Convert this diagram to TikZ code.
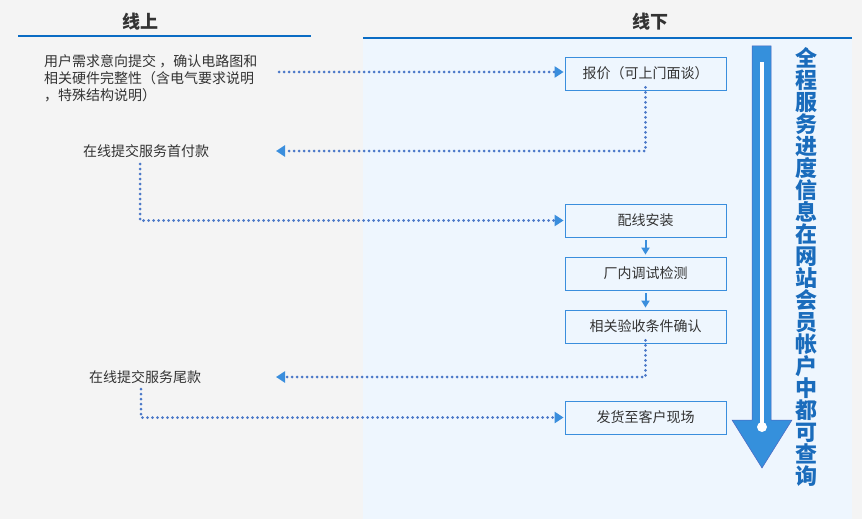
\documentclass[tikz,border=0pt]{standalone}
\usepackage{fontspec}
\setmainfont{Noto Sans CJK SC}
\usetikzlibrary{arrows.meta}
\definecolor{bggrey}{HTML}{F4F4F4}
\definecolor{panelblue}{HTML}{EEF6FE}
\definecolor{rulecol}{HTML}{0A6CC4}
\definecolor{boxcol}{HTML}{3A8EDD}
\definecolor{dotcol}{HTML}{4A78C8}
\definecolor{headcol}{HTML}{3A8EDD}
\definecolor{bigarrow}{HTML}{3590DC}
\definecolor{vtcol}{HTML}{1A6CBC}
\definecolor{txt}{HTML}{333333}
\tikzset{
  stepbox/.style={draw=boxcol, line width=0.8pt, fill=panelblue, minimum width=161pt, minimum height=33pt, inner sep=0pt, text=txt, font=\fontsize{14}{16}\selectfont},
  lefttext/.style={text=txt, font=\fontsize{14}{17}\selectfont, inner sep=0pt},
  dotline/.style={draw=dotcol, line width=3pt, line cap=round, dash pattern=on 0pt off 5pt,
     -{Triangle[length=9pt,width=11pt,color=headcol,fill=headcol]}},
  smallarrow/.style={draw=headcol, line width=2pt, -{Triangle[length=7pt,width=8pt,color=headcol,fill=headcol]}},
  header/.style={text=txt, font=\fontsize{18}{20}\selectfont\bfseries}
}
\begin{document}
\begin{tikzpicture}[x=1pt,y=-1pt]
\useasboundingbox (0,0) rectangle (862,519);
\fill[bggrey] (0,0) rectangle (862,519);
\fill[panelblue] (363,38) rectangle (852,519);
% headers
\node[header] (hon) at (140,22) {线上};
\node[header] (hoff) at (650,22) {线下};
\draw[rulecol, line width=1.2pt] (18,36) -- (311,36);
\draw[rulecol, line width=1.2pt] (363,38) -- (852,38);
% boxes
\node[stepbox] (b1) at (645.5,73.5) {报价（可上门面谈）};
\node[stepbox] (b2) at (645.5,220.5) {配线安装};
\node[stepbox] (b3) at (645.5,273.5) {厂内调试检测};
\node[stepbox] (b4) at (645.5,326.5) {相关验收条件确认};
\node[stepbox] (b5) at (645.5,417.5) {发货至客户现场};
% left texts
\node[lefttext, align=left, anchor=north west] (t1) at (44,54) {用户需求意向提交 ，确认电路图和\\相关硬件完整性（含电气要求说明\\，特殊结构说明）};
\node[lefttext] (t2) at (146,151) {在线提交服务首付款};
\node[lefttext] (t3) at (145,377) {在线提交服务尾款};
% coordinates
\coordinate (c1) at (279,72);
\coordinate (c2) at (276,151);
\coordinate (c3) at (140,164);
\coordinate (c4) at (276,377);
\coordinate (c5) at (141,389);
% dotted connectors
\draw[dotline, shorten >=1pt] (c1) -- (c1 -| b1.west);
\draw[dotline] ([yshift=3pt]b1.south) |- (c2);
\draw[dotline, shorten >=1pt] (c3) |- (b2.west);
\draw[dotline] ([yshift=3pt]b4.south) |- (c4);
\draw[dotline, shorten >=1pt] (c5) |- (b5.west);
% small arrows
\draw[smallarrow, shorten <=3pt, shorten >=2pt] (b2.south) -- (b3.north);
\draw[smallarrow, shorten <=3pt, shorten >=2pt] (b3.south) -- (b4.north);
% big arrow
\fill[bigarrow, draw=bigarrow!70!violet, line width=0.5pt] (752,46) -- (771,46) -- (771,420) -- (792,420) -- (762,468) -- (732,420) -- (752,420) -- cycle;
\fill[white] (759.5,62) rectangle (764,427);
\fill[white] (762,427) circle (5);
% vertical text
\node[text=vtcol, font=\fontsize{22}{22}\selectfont\bfseries, align=center, inner sep=0pt, anchor=north] (vt) at (806,47) {全\\程\\服\\务\\进\\度\\信\\息\\在\\网\\站\\会\\员\\帐\\户\\中\\都\\可\\查\\询};
\end{tikzpicture}
\end{document}
